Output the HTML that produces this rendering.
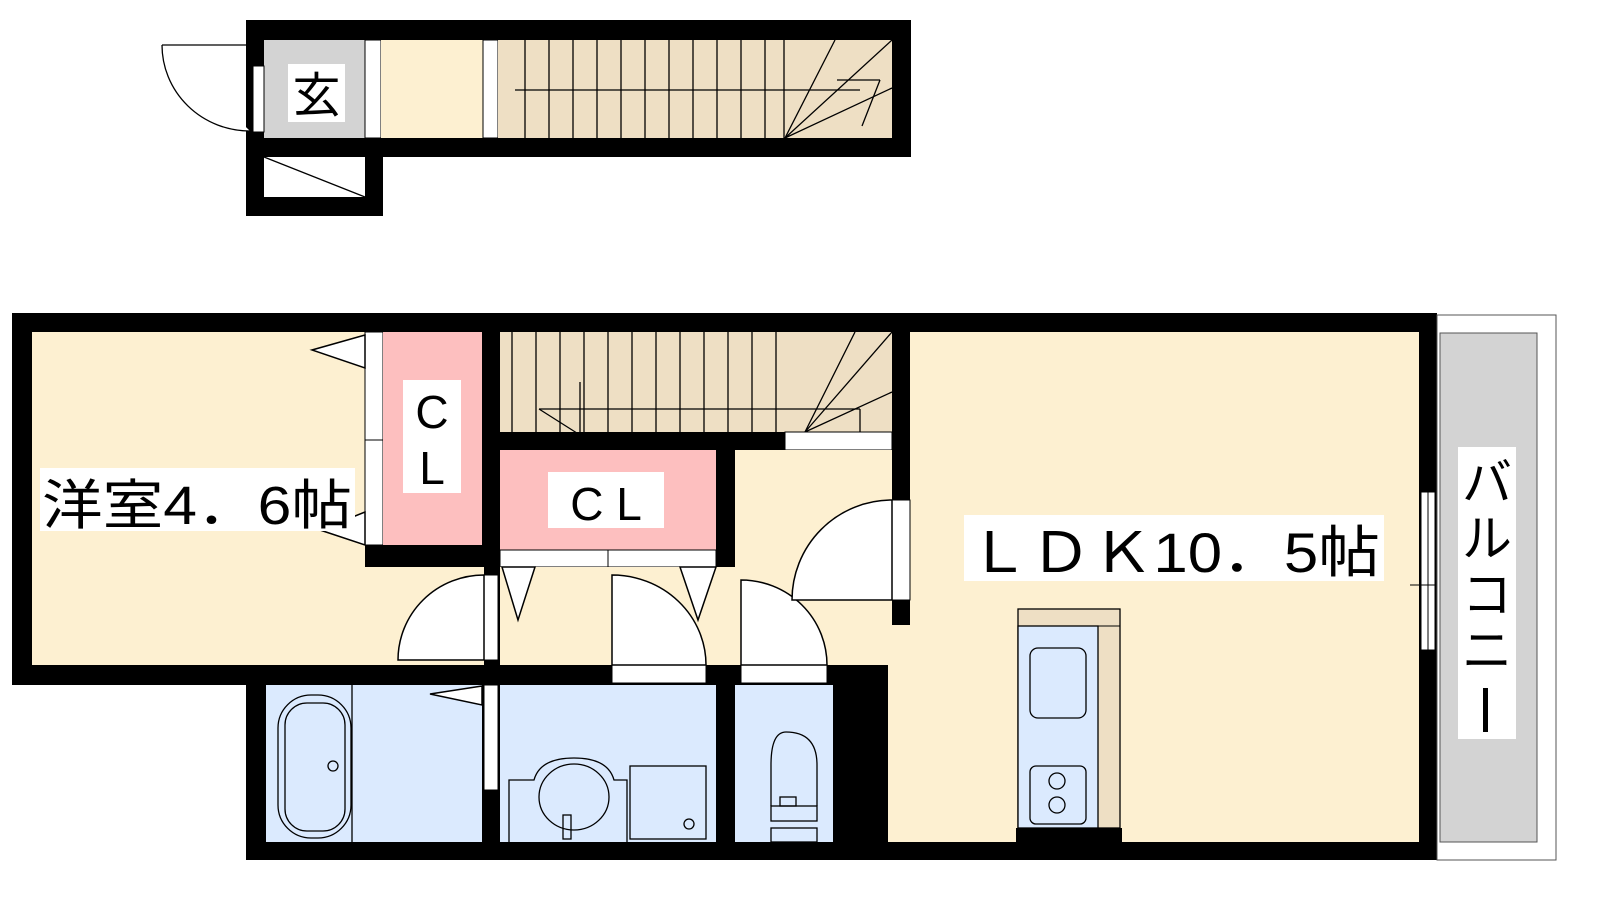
<!DOCTYPE html>
<html><head><meta charset="utf-8"><style>
html,body{margin:0;padding:0;background:#fff;}
svg{display:block;}
text{font-family:"Liberation Sans","Noto Sans CJK JP",sans-serif;fill:#000;}
</style></head><body>
<svg width="1600" height="900" viewBox="0 0 1600 900" xmlns="http://www.w3.org/2000/svg">
<!-- TOP SECTION -->
<rect x="246" y="20" width="665" height="137" fill="#000"/>
<rect x="246" y="138" width="137" height="78" fill="#000"/>
<rect x="264" y="40" width="101" height="98" fill="#d3d3d3"/>
<rect x="365" y="40" width="16" height="98" fill="#fff" stroke="#000" stroke-width="1"/>
<rect x="381" y="40" width="102" height="98" fill="#fdf0d1"/>
<rect x="483" y="40" width="15" height="98" fill="#fff" stroke="#000" stroke-width="1"/>
<rect x="498" y="40" width="394" height="98" fill="#eedfc4"/>
<g stroke="#000" stroke-width="1.3">
<line x1="525" y1="40" x2="525" y2="138"/><line x1="549" y1="40" x2="549" y2="138"/>
<line x1="573" y1="40" x2="573" y2="138"/><line x1="597" y1="40" x2="597" y2="138"/>
<line x1="621" y1="40" x2="621" y2="138"/><line x1="645" y1="40" x2="645" y2="138"/>
<line x1="669" y1="40" x2="669" y2="138"/><line x1="693" y1="40" x2="693" y2="138"/>
<line x1="717" y1="40" x2="717" y2="138"/><line x1="741" y1="40" x2="741" y2="138"/>
<line x1="765" y1="40" x2="765" y2="138"/><line x1="784" y1="40" x2="784" y2="138"/>
<line x1="515" y1="90" x2="860" y2="90"/>
<line x1="785" y1="138" x2="835" y2="40"/><line x1="785" y1="138" x2="892" y2="40"/><line x1="785" y1="138" x2="892" y2="88"/>
<line x1="837" y1="80" x2="880" y2="80"/><line x1="880" y1="80" x2="862" y2="126"/>
</g>
<rect x="264" y="157" width="101" height="40" fill="#fff"/>
<line x1="264" y1="157" x2="365" y2="197" stroke="#000" stroke-width="1.3"/>
<rect x="253" y="66" width="11" height="66" fill="#fff" stroke="#000" stroke-width="1"/>
<path d="M162 45 L250 45 M162 45 A88 86 0 0 0 250 131" fill="#fff" stroke="#000" stroke-width="1.3"/>
<rect x="288" y="64" width="57" height="58" fill="#fff"/>
<text x="316.5" y="112" font-size="48" text-anchor="middle">玄</text>

<!-- MAIN FLOOR -->
<rect x="12" y="313" width="1425" height="372" fill="#000"/>
<rect x="246" y="665" width="1191" height="195" fill="#000"/>
<rect x="32" y="332" width="333" height="333" fill="#fdf0d1"/>
<rect x="365" y="567" width="119" height="98" fill="#fdf0d1"/>
<rect x="365" y="332" width="18" height="213" fill="#fff" stroke="#000" stroke-width="1"/>
<line x1="365" y1="440" x2="383" y2="440" stroke="#000"/>
<rect x="383" y="332" width="99" height="213" fill="#fdbfbf"/>
<rect x="500" y="332" width="392" height="100" fill="#eedfc4"/>
<g stroke="#000" stroke-width="1.3">
<line x1="512" y1="332" x2="512" y2="432"/><line x1="536" y1="332" x2="536" y2="432"/>
<line x1="560" y1="332" x2="560" y2="432"/><line x1="584" y1="332" x2="584" y2="432"/>
<line x1="608" y1="332" x2="608" y2="432"/><line x1="632" y1="332" x2="632" y2="432"/>
<line x1="656" y1="332" x2="656" y2="432"/><line x1="680" y1="332" x2="680" y2="432"/>
<line x1="704" y1="332" x2="704" y2="432"/><line x1="728" y1="332" x2="728" y2="432"/>
<line x1="752" y1="332" x2="752" y2="432"/><line x1="776" y1="332" x2="776" y2="432"/>
<line x1="539" y1="409" x2="860" y2="409"/>
<line x1="539" y1="409" x2="580" y2="435"/><line x1="580" y1="382" x2="580" y2="435"/>
<line x1="860" y1="409" x2="860" y2="451"/>
<line x1="805" y1="432" x2="855" y2="332"/><line x1="805" y1="432" x2="892" y2="332"/><line x1="805" y1="432" x2="892" y2="392"/>
</g>
<rect x="785" y="432" width="107" height="18" fill="#fff" stroke="#000" stroke-width="1"/>
<rect x="500" y="450" width="216" height="100" fill="#fdbfbf"/>
<rect x="500" y="550" width="108" height="17" fill="#fff" stroke="#000" stroke-width="1"/>
<rect x="608" y="550" width="108" height="17" fill="#fff" stroke="#000" stroke-width="1"/>
<rect x="500" y="567" width="392" height="98" fill="#fdf0d1"/>
<rect x="735" y="450" width="157" height="117" fill="#fdf0d1"/>
<rect x="910" y="332" width="509" height="510" fill="#fdf0d1"/>
<rect x="888" y="625" width="22" height="217" fill="#fdf0d1"/>
<rect x="892" y="500" width="18" height="100" fill="#fff" stroke="#000" stroke-width="1"/>
<rect x="1421" y="492" width="14" height="158" fill="#fff" stroke="#000" stroke-width="1"/>
<line x1="1428" y1="492" x2="1428" y2="650" stroke="#000"/>
<line x1="1410" y1="585" x2="1446" y2="585" stroke="#000"/>
<rect x="266" y="685" width="216" height="157" fill="#dbeafe"/>
<rect x="500" y="685" width="216" height="157" fill="#dbeafe"/>
<rect x="735" y="685" width="98" height="157" fill="#dbeafe"/>
<rect x="484" y="685" width="14" height="105" fill="#fff" stroke="#000" stroke-width="1"/>
<rect x="484" y="575" width="14" height="85" fill="#fff" stroke="#000" stroke-width="1"/>
<rect x="612" y="665" width="94" height="18" fill="#fff" stroke="#000" stroke-width="1"/>
<rect x="741" y="665" width="86" height="18" fill="#fff" stroke="#000" stroke-width="1"/>
<g fill="#fff" stroke="#000" stroke-width="1.5">
<path d="M398 660 L484 660 L484 575 A86 85 0 0 0 398 660 Z"/>
<path d="M612 575 L612 665 L706 665 A94 90 0 0 0 612 575 Z"/>
<path d="M741 580 L741 665 L827 665 A86 85 0 0 0 741 580 Z"/>
<path d="M792 600 L892 600 L892 500 A100 100 0 0 0 792 600 Z"/>
<path d="M502 567 L535 567 L518 620 Z"/>
<path d="M680 567 L716 567 L698 620 Z"/>
<path d="M365 335 L365 368 L312 350 Z"/>
<path d="M365 512 L365 545 L320 530 Z"/>
<path d="M482 686 L482 705 L430 694 Z"/>
</g>
<g fill="none" stroke="#000" stroke-width="1.3">
<line x1="352" y1="685" x2="352" y2="842"/>
<rect x="278" y="695" width="73" height="143" rx="33"/>
<rect x="285" y="703" width="60" height="128" rx="22"/>
<circle cx="333" cy="766" r="5"/>
<path d="M509 842 L509 780 L534 780 Q540 758 574 758 Q608 758 614 780 L627 780 L627 842"/>
<ellipse cx="574" cy="797" rx="35" ry="33"/>
<rect x="563" y="815" width="8" height="24"/>
<rect x="630" y="766" width="76" height="73"/>
<circle cx="689" cy="824" r="5"/>
<path d="M771 806 L771 765 Q771 732 786 732 Q817 732 817 765 L817 806"/>
<rect x="771" y="806" width="46" height="15"/>
<rect x="780" y="797" width="16" height="9"/>
<rect x="771" y="828" width="46" height="14"/>
</g>
<rect x="1018" y="609" width="102" height="219" fill="#eedfc4" stroke="#000" stroke-width="1.3"/>
<rect x="1018" y="626" width="80" height="202" fill="#dbeafe" stroke="#000" stroke-width="1.3"/>
<line x1="1098" y1="626" x2="1120" y2="626" stroke="#000"/>
<rect x="1016" y="828" width="106" height="14" fill="#000"/>
<g fill="none" stroke="#000" stroke-width="1.3">
<rect x="1030" y="648" width="56" height="70" rx="8"/>
<rect x="1030" y="766" width="56" height="58" rx="6"/>
<circle cx="1057" cy="781" r="8"/><circle cx="1057" cy="805" r="8"/>
</g>
<rect x="1437" y="315" width="119" height="545" fill="#fff" stroke="#555" stroke-width="1"/>
<rect x="1440" y="333" width="97" height="509" fill="#d3d3d3" stroke="#555" stroke-width="1"/>
<rect x="40" y="468" width="315" height="63" fill="#fff"/>
<text x="42" y="524" font-size="54" textLength="310" lengthAdjust="spacingAndGlyphs">洋室4．6帖</text>
<rect x="403" y="380" width="58" height="113" fill="#fff"/>
<text x="432" y="428" font-size="46" text-anchor="middle">C</text>
<text x="432" y="484" font-size="46" text-anchor="middle">L</text>
<rect x="548" y="472" width="116" height="56" fill="#fff"/>
<text x="606" y="520" font-size="46" text-anchor="middle">C L</text>
<rect x="964" y="515" width="420" height="66" fill="#fff"/>
<text x="968" y="572" font-size="56" textLength="412" lengthAdjust="spacingAndGlyphs">ＬＤＫ10．5帖</text>
<rect x="1458" y="447" width="58" height="292" fill="#fff"/>
<text x="1487" y="500" font-size="50" text-anchor="middle">バ</text>
<text x="1487" y="556" font-size="50" text-anchor="middle">ル</text>
<text x="1487" y="612" font-size="50" text-anchor="middle">コ</text>
<text x="1487" y="668" font-size="50" text-anchor="middle">ニ</text>
<rect x="1483" y="688" width="5" height="44" fill="#000"/>
</svg>
</body></html>
